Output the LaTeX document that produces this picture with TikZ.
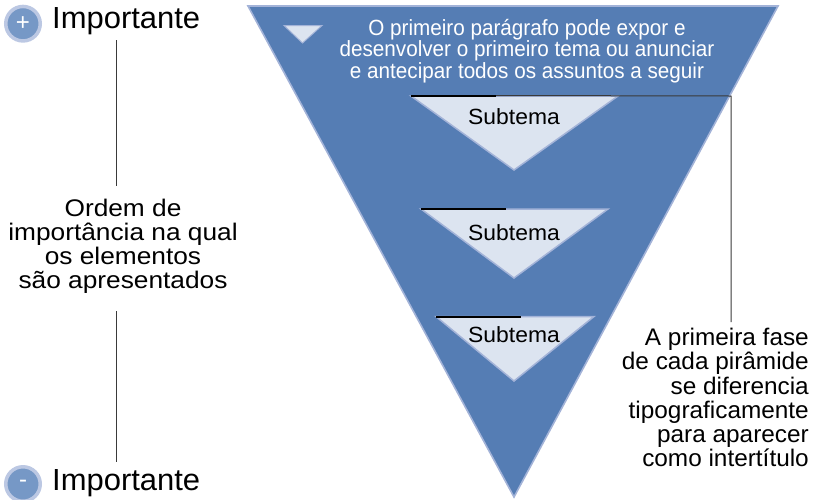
\documentclass[tikz,border=0pt]{standalone}
\usepackage{fontspec}
\setmainfont{Liberation Sans}
\newfontfamily\cond[FakeStretch=0.94]{Liberation Sans}
\newfontfamily\lab[FakeStretch=1.04]{Liberation Sans}
\newfontfamily\labw[FakeStretch=1.095]{Liberation Sans}
\newfontfamily\labb[FakeStretch=1.015]{Liberation Sans}
\definecolor{pyr}{HTML}{557DB4}
\definecolor{pyredge}{HTML}{A3B3D8}
\definecolor{pale}{HTML}{DCE4F0}
\definecolor{disc}{HTML}{7698C6}
\definecolor{discedge}{HTML}{BCC8E3}
\definecolor{rulec}{HTML}{3A3A3A}
\tikzset{
 bigtri/.style={fill=pyr,draw=pyredge,line width=1.6pt,line join=miter},
 subtri/.style={fill=pale,draw=pyredge,line width=1.5pt,line join=miter},
 bigtag/.style={inner sep=0pt,anchor=base west,font=\labb\fontsize{30.5}{32}\selectfont,text=black},
 blurb/.style={inner sep=0pt,align=center,font=\labw\fontsize{24}{24}\selectfont,text=black},
 notetext/.style={inner sep=0pt,align=right,font=\labb\fontsize{24}{24.2}\selectfont,text=black},
 intro/.style={inner sep=0pt,align=center,font=\cond\fontsize{22}{21.5}\selectfont,text=white},
 sub/.style={inner sep=0pt,anchor=center,font=\lab\fontsize{22}{24}\selectfont,text=black},
 rulel/.style={draw=rulec,line width=1pt},
 heavy/.style={draw=black,line width=2pt},
 signdisc/.style={circle,minimum size=34.5pt,inner sep=0pt,fill=disc,draw=discedge,line width=3.5pt,text=white,font=\fontsize{24}{24}\selectfont}
}
\begin{document}
\begin{tikzpicture}[x=1pt,y=-1pt]
\useasboundingbox (0,0) rectangle (821,499);
% main pyramid
\draw[bigtri] (248,6) -- (778,6) -- (514,497) -- cycle;
\draw[fill=pale,draw=pyredge,line width=1pt] (284,25.5) -- (322,25.5) -- (302.5,43) -- cycle;
\node[intro] (intro) at (527,51) {O primeiro parágrafo pode expor e\\desenvolver o primeiro tema ou anunciar\\e antecipar todos os assuntos a seguir};
% subpyramids
\draw[subtri] (411,96) -- (618,96) -- (514,170) -- cycle;
\draw[subtri] (421,209) -- (608,209) -- (514,278) -- cycle;
\draw[subtri] (436,316.5) -- (594,316.5) -- (514,381) -- cycle;
\node[sub] (s1) at (514,117) {Subtema};
\node[sub] (s2) at (514,233) {Subtema};
\node[sub] (s3) at (514,335) {Subtema};
% headline rules
\coordinate (h1a) at (411,95.5); \coordinate (h1b) at (496,95.5);
\coordinate (h2a) at (421,209); \coordinate (h2b) at (506,209);
\coordinate (h3a) at (436,316.5); \coordinate (h3b) at (521,316.5);
\coordinate (corner) at (731,96);
\coordinate (callend) at (731,322);
\draw[rulel] (h1b) -- (corner) -- (callend);
\draw[heavy] (h1a) -- (h1b);
\draw[heavy] (h2a) -- (h2b);
\draw[heavy] (h3a) -- (h3b);
% left column
\node[signdisc] (plus) at (23,23.7) {+};
\node[signdisc] (minus) at (23,484) {-};
\node[bigtag] (top) at (52,28.5) {Importante};
\node[bigtag] (bot) at (52,490) {Importante};
\node[blurb] (order) at (123,246.5) {Ordem de\\importância na qual\\os elementos\\são apresentados};
\coordinate (l1) at (116,40); \coordinate (l2) at (116,186);
\coordinate (l3) at (116,311); \coordinate (l4) at (116,462);
\draw[rulel] (l1) -- (l2);
\draw[rulel] (l3) -- (l4);
% note
\node[notetext,anchor=north east] (note) at (809,328) {A primeira fase\\de cada pirâmide\\se diferencia\\tipograficamente\\para aparecer\\como intertítulo};
\end{tikzpicture}
\end{document}
